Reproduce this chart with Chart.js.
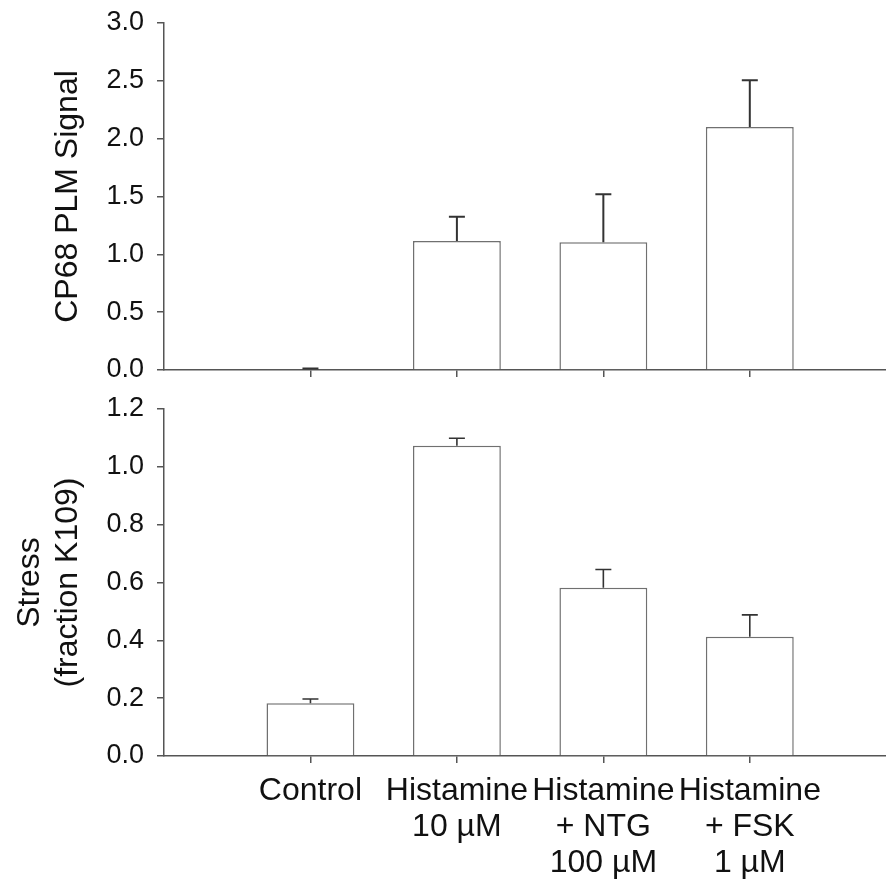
<!DOCTYPE html>
<html>
<head>
<meta charset="utf-8">
<script src="https://cdn.jsdelivr.net/npm/chart.js@4"></script>
<style>
  body { margin: 0; background: #fff; }
  #wrap { position: relative; width: 886px; height: 880px; }
  #top { position: absolute; left: 0; top: 0; }
  #bottom { position: absolute; left: 0; top: 390px; }
</style>
</head>
<body>
<div id="wrap">
  <canvas id="top" width="886" height="390"></canvas>
  <canvas id="bottom" width="886" height="490"></canvas>
</div>
<script>
const categories = [
  "Control",
  ["Histamine", "10 µM"],
  ["Histamine", "+ NTG", "100 µM"],
  ["Histamine", "+ FSK", "1 µM"],
];
const positions = [1, 2, 3, 4];

const plmValues = [0.008, 1.115, 1.105, 2.10];
const plmErrors = [0.006, 0.21, 0.415, 0.405];

const stressValues = [0.182, 1.073, 0.582, 0.412];
const stressErrors = [0.015, 0.026, 0.063, 0.076];

const plmTicks = [0, 0.5, 1.0, 1.5, 2.0, 2.5, 3.0];
const stressTicks = [0, 0.2, 0.4, 0.6, 0.8, 1.0, 1.2];

const axisColor = "#555";
const font = "'Liberation Sans', Arial, sans-serif";

// error bars, upper half only
const errorBars = {
  id: "errorBars",
  afterDatasetsDraw(chart, args, opts) {
    const { ctx, scales } = chart;
    const vals = chart.data.datasets[0].data;
    ctx.save();
    ctx.strokeStyle = opts.color;
    ctx.lineWidth = opts.width;
    vals.forEach((d, i) => {
      const x = scales.x.getPixelForValue(d.x);
      const y0 = scales.y.getPixelForValue(d.y);
      const y1 = scales.y.getPixelForValue(d.y + opts.errors[i]);
      ctx.beginPath();
      ctx.moveTo(x, y0);
      ctx.lineTo(x, y1);
      ctx.moveTo(x - 8, y1);
      ctx.lineTo(x + 8, y1);
      ctx.stroke();
    });
    ctx.restore();
  },
};

const makeChart = (id, values, errors, ticks, title, titlePad, showLabels, xHeight, topPad, errWidth) => {
  const data = {
    datasets: [
      {
        data: values.map((v, i) => ({ x: positions[i], y: v })),
        backgroundColor: "#fff",
        borderColor: "#707070",
        borderWidth: 1.5,
        barPercentage: 0.6,
        categoryPercentage: 1.0,
      },
    ],
  };

  const options = {
    responsive: false,
    animation: false,
    layout: { padding: { top: topPad, right: 0, left: 0, bottom: 0 } },
    plugins: {
      legend: { display: false },
      tooltip: { enabled: false },
      errorBars: { errors: errors, color: "#333", width: errWidth },
    },
    scales: {
      x: {
        type: "linear",
        offset: false,
        min: 0,
        max: 4.93,
        afterBuildTicks: (axis) => {
          axis.ticks = positions.map((p) => ({ value: p }));
        },
        afterFit: (axis) => {
          axis.height = xHeight;
          axis.paddingLeft = 0;
          axis.paddingRight = 0;
        },
        ticks: {
          display: showLabels,
          autoSkip: false,
          maxRotation: 0,
          padding: 10,
          color: "#111",
          font: { family: font, size: 32, lineHeight: 1.125 },
          callback: (v) => categories[positions.indexOf(v)],
        },
        grid: {
          offset: false,
          drawOnChartArea: false,
          drawTicks: true,
          tickLength: 7,
          color: axisColor,
          lineWidth: 1.5,
        },
        border: { color: axisColor, width: 1.5 },
      },
      y: {
        min: ticks[0],
        max: ticks[ticks.length - 1],
        afterBuildTicks: (axis) => {
          axis.ticks = ticks.map((t) => ({ value: t }));
        },
        afterFit: (axis) => {
          axis.width = 164;
          axis.paddingTop = 0;
          axis.paddingBottom = 0;
        },
        ticks: {
          padding: 13,
          color: "#111",
          font: { family: font, size: 27 },
          callback: (v) => v.toFixed(1),
        },
        grid: {
          drawOnChartArea: false,
          drawTicks: true,
          tickLength: 7,
          color: axisColor,
          lineWidth: 1.5,
        },
        border: { color: axisColor, width: 1.5 },
        title: {
          display: true,
          text: title,
          color: "#111",
          padding: { top: titlePad, bottom: 0 },
          font: { family: font, size: 32, lineHeight: 1.16 },
        },
      },
    },
  };

  return new Chart(document.getElementById(id), { type: "bar", data, options, plugins: [errorBars] });
};

makeChart("top", plmValues, plmErrors, plmTicks, "CP68 PLM Signal", 50, false, 20, 23, 2);
makeChart("bottom", stressValues, stressErrors, stressTicks, ["Stress", "(fraction K109)"], 12, true, 124, 19, 1.6);
</script>
</body>
</html>
